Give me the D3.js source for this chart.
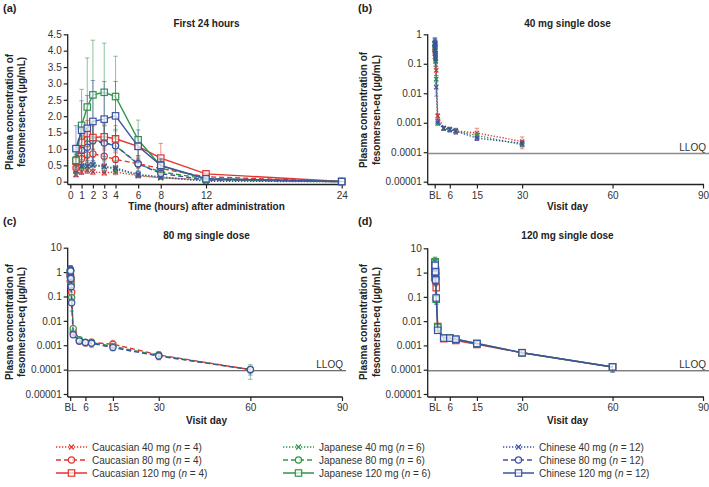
<!DOCTYPE html>
<html><head><meta charset="utf-8">
<script src="https://cdn.jsdelivr.net/npm/d3@7"></script>
<style>body{margin:0;background:#fff} svg{font-family:"Liberation Sans",Arial,sans-serif}</style>
</head><body><svg id="c" width="709" height="487"></svg>
<script>
// ---------------- DATA ----------------
const hours = [0.5, 1, 1.5, 2, 3, 4, 6, 8, 12, 24];      // first-24h sampling (hours)
const laterDays = [4, 6, 8, 15, 30, 60];                  // later visit days
const ethnicities = ["Caucasian", "Japanese", "Chinese"];
const doses = [40, 80, 120];
const nCounts = [4, 6, 12];

const aXTicks = [0, 1, 2, 3, 4, 6, 8, 12, 24];
const aYTicks = [0, 0.5, 1, 1.5, 2, 2.5, 3, 3.5, 4, 4.5];
const aYLabels = ["0", "0.5", "1.0", "1.5", "2.0", "2.5", "3.0", "3.5", "4.0", "4.5"];
const dayTicks = [1, 6, 15, 30, 60, 90];
const dayLabels = ["BL", "6", "15", "30", "60", "90"];
const logTicksB = [1, 0.1, 0.01, 0.001, 0.0001, 0.00001];
const logLabelsB = ["1", "0.1", "0.01", "0.001", "0.0001", "0.00001"];
const logTicksCD = [10, 1, 0.1, 0.01, 0.001, 0.0001, 0.00001];
const logLabelsCD = ["10", "1", "0.1", "0.01", "0.001", "0.0001", "0.00001"];
const lloq = 0.00009;

// mean and SD per series (10 hourly values, then 6 later days)
const cauc40   = [0.22,0.30,0.35,0.30,0.27,0.30,0.18,0.12,0.06,0.0017, 0.00066,0.0006,0.00053,0.00045,0.00023,null];
const cauc40SD = [0.07,0.08,0.09,0.08,0.07,0.09,0.05,0.04,0.02,0.0003, 0.0001,0.0001,0.00012,0.0002,0.0001,null];
const jap40    = [0.32,0.45,0.47,0.50,0.45,0.38,0.20,0.12,0.03,0.00095, 0.00065,0.0006,0.00052,0.00037,0.00018,null];
const jap40SD  = [0.10,0.12,0.12,0.13,0.12,0.10,0.06,0.04,0.01,0.00015, 0.0001,0.0001,0.0001,0.00008,0.00003,null];
const chin40   = [0.35,0.48,0.48,0.52,0.47,0.42,0.22,0.15,0.016,0.0011, 0.00065,0.00058,0.00052,0.0003,0.0002,null];
const chin40SD = [0.20,0.25,0.22,0.25,0.20,0.18,0.10,0.06,0.008,0.0002, 0.0001,0.0001,0.0001,0.00005,0.00004,null];

const cauc80   = [0.42,0.70,0.82,0.85,0.78,0.68,0.55,0.40,0.15,0.0035, 0.0015,0.0013,0.0013,0.0011,0.0004,0.0001];
const cauc80SD = [0.12,0.20,0.25,0.30,0.25,0.20,0.15,0.12,0.05,0.0008, 0.0004,0.0004,0.0005,0.0005,0.00015,0.00003];
const jap80    = [0.62,0.96,1.15,1.28,1.20,1.10,0.53,0.30,0.09,0.0048, 0.0017,0.0013,0.0013,0.0009,0.00038,0.0001];
const jap80SD  = [0.20,0.40,0.50,0.55,0.50,0.45,0.20,0.10,0.03,0.001, 0.0005,0.0003,0.0003,0.0002,0.0001,0.00006];
const chin80   = [0.68,0.95,1.05,1.25,1.18,1.10,0.55,0.25,0.055,0.0027, 0.0015,0.0013,0.0012,0.0008,0.00036,0.0001];
const chin80SD = [0.30,0.45,0.55,0.60,0.55,0.50,0.25,0.10,0.03,0.0005, 0.0003,0.0002,0.0003,0.0002,0.0001,0.00004];

const cauc120   = [0.62,1.20,1.47,1.35,1.37,1.31,1.08,0.72,0.24,0.006, 0.0019,0.002,0.0016,0.0011,0.0005,0.00013];
const cauc120SD = [0.15,0.30,0.40,0.35,0.40,0.40,0.30,0.45,0.07,0.002, 0.0004,0.0003,0.0003,0.0002,0.0001,0.00005];
const jap120    = [0.65,1.72,2.28,2.65,2.73,2.60,1.28,0.48,0.08,0.0055, 0.002,0.002,0.0018,0.0012,0.0005,0.00013];
const jap120SD  = [0.20,1.10,1.50,1.67,1.50,1.23,0.60,0.20,0.03,0.001, 0.0003,0.0003,0.0003,0.0004,0.0001,0.00005];
const chin120   = [1.01,1.57,1.63,1.84,1.91,2.01,1.08,0.50,0.09,0.0042, 0.002,0.002,0.0018,0.0012,0.0005,0.00013];
const chin120SD = [0.70,0.90,1.00,1.25,1.15,1.05,0.50,0.20,0.04,0.001, 0.0003,0.0003,0.0003,0.0003,0.0001,0.00005];

const seriesMeans = {
  40:  [cauc40, jap40, chin40],
  80:  [cauc80, jap80, chin80],
  120: [cauc120, jap120, chin120]
};
const seriesSDs = {
  40:  [cauc40SD, jap40SD, chin40SD],
  80:  [cauc80SD, jap80SD, chin80SD],
  120: [cauc120SD, jap120SD, chin120SD]
};

// ---------------- STYLE ----------------
const svg = d3.select("#c");
const COL = {Caucasian: "#e2352f", Japanese: "#2f9648", Chinese: "#3a53a3"};
const DASH = {40: "1.3,1.7", 80: "5,3", 120: null};
const SHAPE = {40: "x", 80: "circle", 120: "square"};
const AX = "#222", TXT = "#333";

const dayPos = hours.map(h => 1 + h / 24).concat(laterDays);

function marker(g, shape, cx, cy, color, s) {
  s = s || 1;
  if (shape === "square") {
    g.append("rect").attr("x", cx - 3.2*s).attr("y", cy - 3.2*s).attr("width", 6.4*s).attr("height", 6.4*s)
      .attr("fill", "#fff").attr("fill-opacity", 0.7).attr("stroke", color).attr("stroke-width", 1.2);
  } else if (shape === "circle") {
    g.append("circle").attr("cx", cx).attr("cy", cy).attr("r", 3.1*s)
      .attr("fill", "#fff").attr("fill-opacity", 0.7).attr("stroke", color).attr("stroke-width", 1.2);
  } else {
    const r = 2.5*s;
    g.append("path").attr("d", `M${cx-r},${cy-r}L${cx+r},${cy+r}M${cx-r},${cy+r}L${cx+r},${cy-r}`)
      .attr("stroke", color).attr("stroke-width", 1.3).attr("fill", "none");
  }
}

function drawPanel(p) {
  const g = svg.append("g");
  const ya = d3.axisLeft(p.y).tickValues(p.yTicks).tickFormat((d, i) => p.yLabels[i]).tickSize(4).tickSizeOuter(0);
  const gy = g.append("g").attr("transform", `translate(${p.axX},0)`).call(ya);
  const xa = d3.axisBottom(p.x).tickValues(p.xTicks).tickFormat((d, i) => p.xLabels[i]).tickSize(4).tickSizeOuter(0);
  const gx = g.append("g").attr("transform", `translate(0,${p.axY})`).call(xa);
  [gy, gx].forEach(a => {
    a.select(".domain").remove();
    a.selectAll("line").attr("stroke", AX).attr("stroke-width", 1.2);
    a.selectAll("text").attr("fill", TXT).style("font-size", "10px").style("font-family", "Liberation Sans, Arial, sans-serif");
  });
  gy.selectAll("text").attr("x", -6);
  gx.selectAll("text").attr("y", 7);
  const yTop = p.y(p.yTicks.reduce((a, b) => Math.max(a, b)));
  g.append("line").attr("x1", p.axX).attr("x2", p.axX).attr("y1", yTop).attr("y2", p.axY).attr("stroke", AX).attr("stroke-width", 1.3);
  g.append("line").attr("x1", p.axX).attr("x2", p.xEnd).attr("y1", p.axY).attr("y2", p.axY).attr("stroke", AX).attr("stroke-width", 1.3);

  if (p.log) {
    const yl = p.y(lloq);
    g.append("line").attr("x1", p.axX).attr("x2", p.lloqEnd).attr("y1", yl).attr("y2", yl)
      .attr("stroke", p.lloqColor).attr("stroke-width", p.lloqWidth);
    g.append("text").attr("x", p.lloqEnd - 3).attr("y", yl - 3).attr("text-anchor", "end")
      .attr("fill", TXT).style("font-size", "10px").text("LLOQ");
  }

  g.append("text").attr("x", p.titleX).attr("y", p.titleY).attr("text-anchor", "middle")
    .style("font-size", "10px").style("font-weight", "bold").attr("fill", "#222").text(p.title);
  g.append("text").attr("x", p.tagX).attr("y", p.tagY)
    .style("font-size", "11px").style("font-weight", "bold").attr("fill", "#222").text(p.tag);
  g.append("text").attr("x", p.titleX).attr("y", p.xLabY).attr("text-anchor", "middle")
    .style("font-size", "10px").style("font-weight", "bold").attr("fill", "#222").text(p.xLabel);
  const yl = g.append("text").attr("transform", `translate(${p.yLabX},${p.yLabY}) rotate(-90)`)
    .attr("text-anchor", "middle").style("font-size", "10px").style("font-weight", "bold").attr("fill", "#222");
  yl.append("tspan").attr("x", 0).attr("dy", 0).text("Plasma concentration of");
  yl.append("tspan").attr("x", 0).attr("dy", 12.5).text("fesomersen-eq (µg/mL)");

  const dataLayer = g.append("g");
  p.doses.forEach(dose => {
    ethnicities.forEach((eth, ei) => {
      const m = seriesMeans[dose][ei], sd = seriesSDs[dose][ei];
      const pts = [];
      p.xs.forEach((xv, i) => {
        if (m[i] != null) pts.push({x: xv, v: m[i], sd: sd[i]});
      });
      const col = COL[eth];
      const eb = dataLayer.append("g").attr("stroke", col).attr("stroke-opacity", 0.55).attr("stroke-width", 1);
      pts.forEach(d => {
        let lo = d.v - d.sd, hi = d.v + d.sd;
        if (p.log) { if (lo <= p.yMin) lo = p.yMin * 1.2; }
        else if (lo < 0) lo = 0;
        const cx = p.x(d.x);
        eb.append("line").attr("x1", cx).attr("x2", cx).attr("y1", p.y(lo)).attr("y2", p.y(hi));
        eb.append("line").attr("x1", cx - 2.2).attr("x2", cx + 2.2).attr("y1", p.y(hi)).attr("y2", p.y(hi));
        eb.append("line").attr("x1", cx - 2.2).attr("x2", cx + 2.2).attr("y1", p.y(lo)).attr("y2", p.y(lo));
      });
      const line = d3.line().x(d => p.x(d.x)).y(d => p.y(d.v));
      dataLayer.append("path").datum(pts).attr("d", line).attr("fill", "none")
        .attr("stroke", col).attr("stroke-width", 1.4).attr("stroke-dasharray", DASH[dose]);
      const mk = dataLayer.append("g");
      pts.forEach(d => marker(mk, SHAPE[dose], p.x(d.x), p.y(d.v), col, p.mscale));
    });
  });
}

// Panel (a)
drawPanel({
  x: d3.scaleLinear().domain([0, 24]).range([70.3, 341.7]),
  y: d3.scaleLinear().domain([0, 4.5]).range([181.7, 34.3]),
  log: false, axX: 67.7, axY: 184.5, xEnd: 342.5,
  xTicks: aXTicks, xLabels: aXTicks.map(String), yTicks: aYTicks, yLabels: aYLabels,
  xs: hours, doses: [40, 80, 120], mscale: 1,
  title: "First 24 hours", titleX: 206.5, titleY: 27, tag: "(a)", tagX: 3, tagY: 12,
  xLabel: "Time (hours) after administration", xLabY: 210,
  yLabX: 12.5, yLabY: 112
});

// Panel (b)
drawPanel({
  x: d3.scaleLinear().domain([0, 90]).range([431.7, 703]),
  y: d3.scaleLog().domain([0.00001, 1]).range([181.7, 34.3]),
  log: true, yMin: 0.00001, axX: 427.7, axY: 184.5, xEnd: 704,
  xTicks: dayTicks, xLabels: dayLabels, yTicks: logTicksB, yLabels: logLabelsB,
  xs: dayPos, doses: [40], mscale: 0.85,
  lloqEnd: 709, lloqColor: "#8a8a8a", lloqWidth: 1.6,
  title: "40 mg single dose", titleX: 567.5, titleY: 27, tag: "(b)", tagX: 358, tagY: 12,
  xLabel: "Visit day", xLabY: 210,
  yLabX: 367, yLabY: 110
});

// Panel (c)
drawPanel({
  x: d3.scaleLinear().domain([0, 90]).range([67.1, 342]),
  y: d3.scaleLog().domain([0.00001, 10]).range([394, 247.7]),
  log: true, yMin: 0.00001, axX: 67.7, axY: 397, xEnd: 342.5,
  xTicks: dayTicks, xLabels: dayLabels, yTicks: logTicksCD, yLabels: logLabelsCD,
  xs: dayPos, doses: [80], mscale: 1,
  lloqEnd: 346, lloqColor: "#444", lloqWidth: 1,
  title: "80 mg single dose", titleX: 206.5, titleY: 238.5, tag: "(c)", tagX: 3, tagY: 225,
  xLabel: "Visit day", xLabY: 424,
  yLabX: 12.5, yLabY: 322
});

// Panel (d)
drawPanel({
  x: d3.scaleLinear().domain([0, 90]).range([431.7, 703]),
  y: d3.scaleLog().domain([0.00001, 10]).range([394, 248.3]),
  log: true, yMin: 0.00001, axX: 427.7, axY: 397, xEnd: 704,
  xTicks: dayTicks, xLabels: dayLabels, yTicks: logTicksCD, yLabels: logLabelsCD,
  xs: dayPos, doses: [120], mscale: 1,
  lloqEnd: 709, lloqColor: "#444", lloqWidth: 1,
  title: "120 mg single dose", titleX: 567.5, titleY: 238.5, tag: "(d)", tagX: 358, tagY: 225,
  xLabel: "Visit day", xLabY: 424,
  yLabX: 367, yLabY: 322
});

// Legend
const legX = [56, 283, 503];
const legY = [447, 460, 473];
ethnicities.forEach((eth, ei) => {
  doses.forEach((dose, di) => {
    const g = svg.append("g");
    const x0 = legX[ei], y0 = legY[di], col = COL[eth];
    g.append("line").attr("x1", x0).attr("x2", x0 + 31).attr("y1", y0).attr("y2", y0)
      .attr("stroke", col).attr("stroke-width", 1.5).attr("stroke-dasharray", DASH[dose]);
    marker(g, SHAPE[dose], x0 + 15.5, y0, col, 1);
    const t = g.append("text").attr("x", x0 + 36).attr("y", y0 + 3.6).style("font-size", "10px").attr("fill", TXT);
    t.append("tspan").text(`${eth} ${dose} mg (`);
    t.append("tspan").style("font-style", "italic").text("n");
    t.append("tspan").text(` = ${nCounts[ei]})`);
  });
});
</script></body></html>
